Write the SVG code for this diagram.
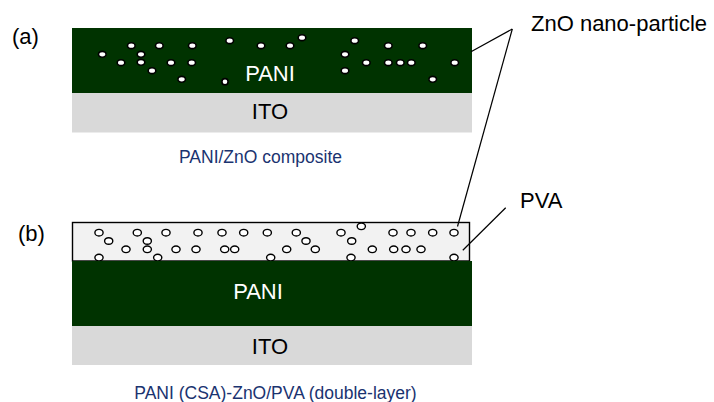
<svg xmlns="http://www.w3.org/2000/svg" width="714" height="402" viewBox="0 0 714 402">
<style>
text{font-family:"Liberation Sans",Arial,sans-serif}
.lbl{font-size:22px;fill:#000}
.wt{font-size:22px;fill:#fff}
.cap{font-size:17.5px;fill:#1a3370}
.pani{fill:#003300}
.ito{fill:#d9d9d9}
.dot{fill:#fff;stroke:#000;stroke-width:1.6}
.ring{fill:#fff;stroke:#000;stroke-width:1.4}
.ln{stroke:#000;stroke-width:1.2;fill:none}
</style>
<text class="lbl" x="12" y="44">(a)</text>
<text class="lbl" x="18" y="240.5">(b)</text>

<g id="a-ito">
<rect class="ito" x="72" y="93" width="400" height="39.5"/>
<text class="lbl" x="270" y="119" text-anchor="middle">ITO</text>
</g>
<g id="a-pani">
<rect class="pani" x="72" y="28" width="400" height="65"/>
<text class="wt" x="270" y="81" text-anchor="middle">PANI</text>
<g id="a-particles">
<ellipse class="dot" cx="102.3" cy="54.3" rx="3.8" ry="2.9"/>
<ellipse class="dot" cx="131.3" cy="45.7" rx="3.8" ry="2.9"/>
<ellipse class="dot" cx="159.3" cy="45.7" rx="3.8" ry="2.9"/>
<ellipse class="dot" cx="192.3" cy="45.7" rx="3.8" ry="2.9"/>
<ellipse class="dot" cx="141" cy="54.3" rx="3.8" ry="2.9"/>
<ellipse class="dot" cx="121" cy="62.7" rx="3.8" ry="2.9"/>
<ellipse class="dot" cx="141" cy="62.3" rx="3.8" ry="2.9"/>
<ellipse class="dot" cx="171" cy="62.7" rx="3.8" ry="2.9"/>
<ellipse class="dot" cx="191.7" cy="62.7" rx="3.8" ry="2.9"/>
<ellipse class="dot" cx="152" cy="70.7" rx="3.8" ry="2.9"/>
<ellipse class="dot" cx="181.7" cy="79.3" rx="3.8" ry="2.9"/>
<ellipse class="dot" cx="229.7" cy="40.7" rx="3.8" ry="2.9"/>
<ellipse class="dot" cx="261" cy="45.7" rx="3.8" ry="2.9"/>
<ellipse class="dot" cx="290" cy="45.7" rx="3.8" ry="2.9"/>
<ellipse class="dot" cx="302" cy="37.7" rx="3.8" ry="2.9"/>
<ellipse class="dot" cx="225" cy="81.7" rx="3.1" ry="3.1"/>
<ellipse class="dot" cx="354.7" cy="40.7" rx="3.8" ry="2.9"/>
<ellipse class="dot" cx="345" cy="54.3" rx="3.8" ry="2.9"/>
<ellipse class="dot" cx="366.3" cy="62.7" rx="3.8" ry="2.9"/>
<ellipse class="dot" cx="345" cy="70.7" rx="3.8" ry="2.9"/>
<ellipse class="dot" cx="388.3" cy="45.7" rx="3.8" ry="2.9"/>
<ellipse class="dot" cx="388.3" cy="62.7" rx="3.8" ry="2.9"/>
<ellipse class="dot" cx="400.3" cy="62.7" rx="3.8" ry="2.9"/>
<ellipse class="dot" cx="411.3" cy="62.7" rx="3.8" ry="2.9"/>
<ellipse class="dot" cx="422.7" cy="45.7" rx="3.8" ry="2.9"/>
<ellipse class="dot" cx="432.7" cy="79.3" rx="3.8" ry="2.9"/>
<ellipse class="dot" cx="454.7" cy="62.7" rx="3.8" ry="2.9"/>
</g>
</g>
<text class="cap" x="260.5" y="163.3" text-anchor="middle">PANI/ZnO composite</text>

<g id="b-pva">
<rect x="72.5" y="222.5" width="397" height="38.5" fill="#f2f2f2" stroke="#000" stroke-width="1.4"/>
<g id="b-particles">
<ellipse class="ring" cx="99" cy="232.7" rx="4.1" ry="3.3"/>
<ellipse class="ring" cx="108.7" cy="241" rx="4.1" ry="3.3"/>
<ellipse class="ring" cx="137.3" cy="232.7" rx="4.1" ry="3.3"/>
<ellipse class="ring" cx="147.3" cy="241" rx="4.1" ry="3.3"/>
<ellipse class="ring" cx="166" cy="232.7" rx="4.1" ry="3.3"/>
<ellipse class="ring" cx="198" cy="232.7" rx="4.1" ry="3.3"/>
<ellipse class="ring" cx="222" cy="232.7" rx="4.1" ry="3.3"/>
<ellipse class="ring" cx="243.7" cy="232.7" rx="4.1" ry="3.3"/>
<ellipse class="ring" cx="267.3" cy="232.7" rx="4.1" ry="3.3"/>
<ellipse class="ring" cx="296.3" cy="232.7" rx="4.1" ry="3.3"/>
<ellipse class="ring" cx="306" cy="241" rx="4.1" ry="3.3"/>
<ellipse class="ring" cx="341" cy="232.7" rx="4.1" ry="3.3"/>
<ellipse class="ring" cx="361.3" cy="226.3" rx="4.1" ry="3.3"/>
<ellipse class="ring" cx="351.7" cy="241" rx="4.1" ry="3.3"/>
<ellipse class="ring" cx="393" cy="232.7" rx="4.1" ry="3.3"/>
<ellipse class="ring" cx="411" cy="232.7" rx="4.1" ry="3.3"/>
<ellipse class="ring" cx="432.7" cy="232.7" rx="4.1" ry="3.3"/>
<ellipse class="ring" cx="454" cy="232.7" rx="4.1" ry="3.3"/>
<ellipse class="ring" cx="126" cy="249.3" rx="4.1" ry="3.3"/>
<ellipse class="ring" cx="147.3" cy="249.3" rx="4.1" ry="3.3"/>
<ellipse class="ring" cx="176" cy="249.3" rx="4.1" ry="3.3"/>
<ellipse class="ring" cx="196" cy="249.3" rx="4.1" ry="3.3"/>
<ellipse class="ring" cx="224.7" cy="249.3" rx="4.1" ry="3.3"/>
<ellipse class="ring" cx="234.7" cy="249.3" rx="4.1" ry="3.3"/>
<ellipse class="ring" cx="286.7" cy="249.3" rx="4.1" ry="3.3"/>
<ellipse class="ring" cx="315.3" cy="249.3" rx="4.1" ry="3.3"/>
<ellipse class="ring" cx="372.3" cy="249.3" rx="4.1" ry="3.3"/>
<ellipse class="ring" cx="393.7" cy="249.3" rx="4.1" ry="3.3"/>
<ellipse class="ring" cx="406" cy="249.3" rx="4.1" ry="3.3"/>
<ellipse class="ring" cx="421" cy="249.3" rx="4.1" ry="3.3"/>
<ellipse class="ring" cx="99" cy="257.6" rx="4.1" ry="3.3"/>
<ellipse class="ring" cx="157.7" cy="257.6" rx="4.1" ry="3.3"/>
<ellipse class="ring" cx="270.7" cy="257.6" rx="4.1" ry="3.3"/>
<ellipse class="ring" cx="351" cy="257.6" rx="4.1" ry="3.3"/>
<ellipse class="ring" cx="454" cy="257.6" rx="4.1" ry="3.3"/>
</g>
</g>
<g id="b-pani">
<rect class="pani" x="72" y="261" width="400" height="65"/>
<text class="wt" x="258" y="299.3" text-anchor="middle">PANI</text>
</g>
<g id="b-ito">
<rect class="ito" x="72" y="326" width="400" height="39"/>
<text class="lbl" x="270" y="354" text-anchor="middle">ITO</text>
</g>
<text class="cap" x="275.5" y="399.3" text-anchor="middle">PANI (CSA)-ZnO/PVA (double-layer)</text>

<g id="zno-label">
<text class="lbl" x="531" y="30.7">ZnO nano-particle</text>
</g>
<g id="pva-label">
<text class="lbl" x="520" y="207.7">PVA</text>
</g>

<g id="connectors">
<line class="ln" x1="512.3" y1="29" x2="471" y2="51.7"/>
<line class="ln" x1="512.3" y1="29" x2="457.5" y2="226.5"/>
<line class="ln" x1="505.7" y1="207.7" x2="462.8" y2="250.3"/>
</g>
</svg>
